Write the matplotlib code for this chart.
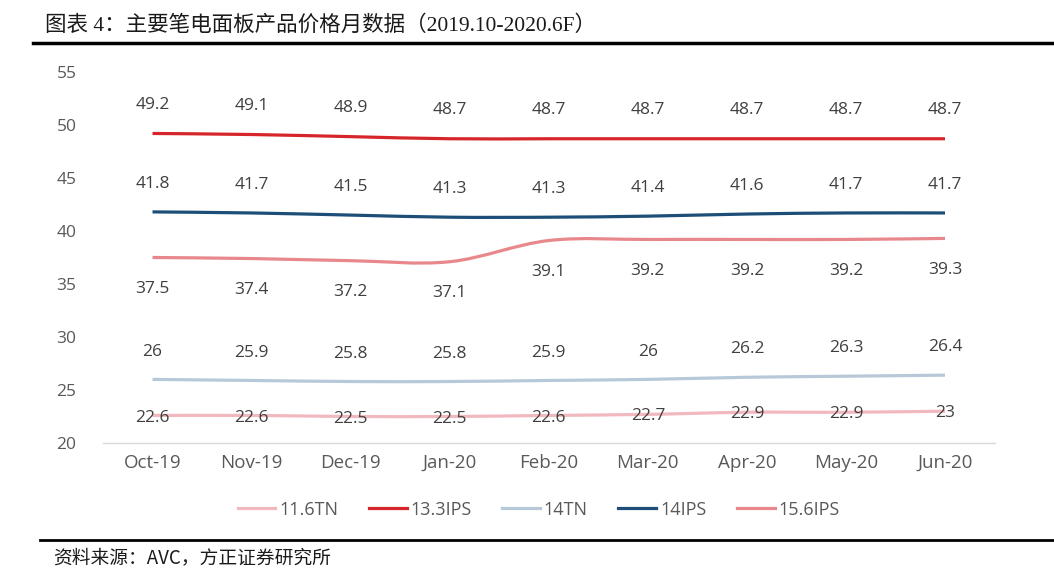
import numpy as np
import matplotlib
matplotlib.use("Agg")
import matplotlib.pyplot as plt
from matplotlib.path import Path
from matplotlib.patches import PathPatch
from matplotlib.lines import Line2D

categories = ["Oct-19", "Nov-19", "Dec-19", "Jan-20", "Feb-20", "Mar-20", "Apr-20", "May-20", "Jun-20"]
s_116tn = [22.6, 22.6, 22.5, 22.5, 22.6, 22.7, 22.9, 22.9, 23]
s_133ips = [49.2, 49.1, 48.9, 48.7, 48.7, 48.7, 48.7, 48.7, 48.7]
s_14tn = [26, 25.9, 25.8, 25.8, 25.9, 26, 26.2, 26.3, 26.4]
s_14ips = [41.8, 41.7, 41.5, 41.3, 41.3, 41.4, 41.6, 41.7, 41.7]
s_156ips = [37.5, 37.4, 37.2, 37.1, 39.1, 39.2, 39.2, 39.2, 39.3]
series_names = ["11.6TN", "13.3IPS", "14TN", "14IPS", "15.6IPS"]
yticks = [20, 25, 30, 35, 40, 45, 50, 55]

series = [s_116tn, s_133ips, s_14tn, s_14ips, s_156ips]
colors = ["#F2B8BF", "#D7262B", "#B7C9D9", "#1D4E78", "#E8888C"]
# label offsets in points (vertical)
offsets = [-1.5, 20.5, 20, 20, -22.5]

plt.rcParams['font.family'] = ['Open Sans', 'Noto Sans CJK SC', 'DejaVu Sans']

fig = plt.figure(figsize=(10.54, 5.88), dpi=100)
ax = fig.add_axes([0.0977, 0.2466, 0.9436 - 0.0977, 0.8776 - 0.2466])

def smooth_path(xs, ys):
    pts = np.column_stack([xs, ys]).astype(float)
    n = len(pts)
    verts = [pts[0]]
    codes = [Path.MOVETO]
    for i in range(n - 1):
        p0 = pts[i - 1] if i > 0 else pts[i]
        p1 = pts[i]
        p2 = pts[i + 1]
        p3 = pts[i + 2] if i + 2 < n else pts[i + 1]
        c1 = p1 + (p2 - p0) / 6.0
        c2 = p2 - (p3 - p1) / 6.0
        verts += [c1, c2, p2]
        codes += [Path.CURVE4] * 3
    return Path(verts, codes)

x = np.arange(len(categories))
handles = []
for vals, col, off, name in zip(series, colors, offsets, series_names):
    patch = PathPatch(smooth_path(x, vals), facecolor='none', edgecolor=col,
                      lw=2.3, capstyle='butt', zorder=3)
    ax.add_patch(patch)
    handles.append(Line2D([0], [0], color=col, lw=2.3))
    for xi, v in zip(x, vals):
        ax.annotate(f"{v:g}", (xi, v), xytext=(0, off), textcoords='offset points',
                    ha='center', va='center', fontsize=12.5, color='#404040', zorder=4)

ax.set_xlim(-0.5, len(categories) - 0.5)
ax.set_ylim(20, 55)
ax.set_xticks(x)
ax.set_xticklabels(categories)
ax.set_yticks(yticks)
ax.tick_params(axis='both', length=0, colors='#595959')
ax.tick_params(axis='x', labelsize=13.5, pad=8)
ax.tick_params(axis='y', labelsize=12.5, pad=19)
for sp in ['top', 'right', 'left']:
    ax.spines[sp].set_visible(False)
ax.spines['bottom'].set_color('#D9D9D9')
ax.spines['bottom'].set_linewidth(1.0)

fig.legend(handles, series_names, loc='center', bbox_to_anchor=(0.511, 0.133), ncol=5,
           frameon=False, fontsize=13, handlelength=2.1, columnspacing=1.7,
           handletextpad=0.2, labelcolor='#595959')

# Title and rules
fig.text(0.043, 1 - 25 / 588, "图表 4：主要笔电面板产品价格月数据（2019.10-2020.6F）",
         fontsize=15.5, ha='left', va='center', color='#1a1a1a',
         family=['Liberation Serif', 'Noto Sans CJK SC'])
fig.add_artist(Line2D([33 / 1054, 1.0], [1 - 43 / 588, 1 - 43 / 588], color='black', lw=2.5))
fig.add_artist(Line2D([40 / 1054, 1.0], [1 - 540 / 588, 1 - 540 / 588], color='black', lw=2.0))
fig.text(0.05, 1 - 558 / 588, "资料来源：AVC，方正证券研究所", fontsize=13.5, ha='left', va='center',
         color='#1a1a1a', style='italic', family=['Noto Sans CJK SC', 'DejaVu Sans'])

fig.savefig("out.png", dpi=100)
